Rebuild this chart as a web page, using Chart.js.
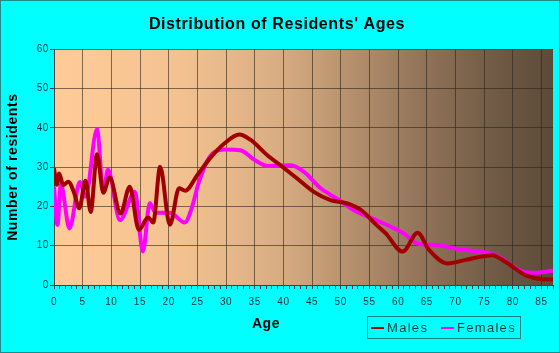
<!DOCTYPE html>
<html>
<head>
<meta charset="utf-8">
<script src="https://cdn.jsdelivr.net/npm/chart.js@4.4.1/dist/chart.umd.min.js"></script>
<style>
    html, body { margin: 0; padding: 0; background: #00ffff; }
    #wrap { position: relative; width: 560px; height: 353px; background: #00ffff; font-family: "Liberation Sans", Arial, sans-serif; }
    #frame { position: absolute; left: 0; top: 0; width: 558px; height: 351px; border: 1px solid #1c8c8c; pointer-events: none; }
    #ageTitle { position: absolute; left: 246px; top: 315px; width: 40px; text-align: center; font-weight: bold; font-size: 14px; letter-spacing: 0.6px; color: #000; }
    #legend { position: absolute; left: 367px; top: 316px; width: 152px; height: 21px; border: 1px solid #108080; font-size: 13px; letter-spacing: 1.3px; color: #063c3c; }
    .item { position: absolute; top: 3px; white-space: nowrap; }
    .item span.mark { position: absolute; top: 7px; width: 13px; height: 2px; }
    .item span.txt { position: absolute; left: 16px; top: 0; }
</style>
</head>
<body>
<div id="wrap">
    <canvas id="agesChart" width="560" height="353"></canvas>
    <div id="ageTitle">Age</div>
    <div id="legend"></div>
    <div id="frame"></div>
</div>
<script>
// ages where the curves were read, and number of residents at those ages
const maleAges = [0, 0.5, 0.9, 1.6, 2.5, 3.5, 4.4, 5.5, 6.4, 7.5, 8.6, 9.7, 11.6, 13.2, 14.8, 16.4, 17.3, 18.5, 20.2, 21.8, 22.9, 25, 27.4, 29.7, 32.3, 34.3, 37.2, 39.8, 42.4, 45.3, 48.2, 51, 53.6, 56.2, 57.8, 60.8, 63.4, 65.4, 68.6, 71.8, 76.4, 78.7, 82.2, 84.5, 87];
const males = [29.7, 25.5, 28.4, 25.4, 26.3, 23.5, 19.5, 26.5, 18.6, 33.3, 23.5, 27.4, 18.2, 25, 14, 17.2, 15.9, 30.1, 15.3, 24.6, 24, 28, 32.6, 36, 38.3, 36.9, 33, 30.1, 27.1, 23.7, 21.6, 20.8, 19, 15.3, 13.2, 8.5, 13.3, 8.9, 5.5, 6.4, 7.6, 5.9, 2.5, 1.6, 1.4];

const femaleAges = [0, 0.6, 1.2, 2.7, 4.5, 5.5, 7.5, 8.6, 9.4, 11.5, 14.1, 15.5, 16.7, 17.7, 20.2, 22.8, 24.1, 25.2, 27, 29.9, 32.5, 35, 37.3, 41.3, 43.6, 46.5, 49.3, 52.2, 56.5, 60.8, 63.7, 66.6, 70.6, 75.8, 77.6, 81, 83.4, 87];
const females = [25, 15.3, 25.5, 14.4, 26.2, 22.5, 39.6, 23.7, 29.3, 16.5, 23.7, 8.5, 20.8, 18.4, 18.4, 15.9, 20, 25.9, 32.3, 34.5, 34.3, 31.8, 30.3, 30.5, 28.8, 24.6, 22, 19.1, 16.3, 13.3, 10.4, 10.2, 9.1, 8.1, 7.2, 3.8, 3.1, 3.6];

const seriesNames = ["Males", "Females"];
const seriesColors = ["#a00000", "#ff00ff"];
const yTicks = [0, 10, 20, 30, 40, 50, 60];
const xLabelStep = 5;
const xMax = 87;

function toPoints(xs, ys) {
    return ys.map((v, i) => ({ x: xs[i], y: v }));
}

// peach-to-brown plot background and spaced-out text
const plotBackground = {
    id: "plotBackground",
    beforeDraw(chart) {
        const { ctx, chartArea: a } = chart;
        const g = ctx.createLinearGradient(a.left, 0, a.right, 0);
        g.addColorStop(0, "#ffcc99");
        g.addColorStop(0.25, "#f3c290");
        g.addColorStop(0.45, "#d9ad83");
        g.addColorStop(0.6, "#b48f6c");
        g.addColorStop(0.75, "#8f7157");
        g.addColorStop(0.9, "#6d5843");
        g.addColorStop(1, "#5c4a38");
        ctx.save();
        ctx.fillStyle = g;
        ctx.fillRect(a.left, a.top, a.right - a.left, a.bottom - a.top);
        ctx.restore();
        ctx.letterSpacing = "0.6px";
    },
};

const gridColor = "rgba(45, 35, 25, 0.6)";

new Chart(document.getElementById("agesChart").getContext("2d"), {
    type: "line",
    data: {
        datasets: [
            {
                label: seriesNames[0],
                data: toPoints(maleAges, males),
                borderColor: seriesColors[0],
                borderWidth: 4,
                pointRadius: 0,
                cubicInterpolationMode: "monotone",
            },
            {
                label: seriesNames[1],
                data: toPoints(femaleAges, females),
                borderColor: seriesColors[1],
                borderWidth: 4,
                pointRadius: 0,
                cubicInterpolationMode: "monotone",
            },
        ],
    },
    options: {
        responsive: false,
        devicePixelRatio: 1,
        animation: false,
        layout: { padding: { left: 0, right: 6, top: 0, bottom: 0 } },
        plugins: {
            legend: { display: false },
            tooltip: { enabled: false },
            title: {
                display: true,
                text: "Distribution of Residents' Ages",
                color: "#000",
                font: { family: "'Liberation Sans', Arial", size: 16, weight: "bold" },
                padding: { top: 15, bottom: 15 },
            },
        },
        scales: {
            x: {
                type: "linear",
                min: 0,
                max: xMax,
                afterFit: (s) => { s.height = 68; },
                afterBuildTicks: (s) => {
                    const t = [];
                    for (let v = 0; v <= xMax; v++) t.push({ value: v });
                    s.ticks = t;
                },
                ticks: {
                    autoSkip: false,
                    maxRotation: 0,
                    padding: 7,
                    color: "#0a3030",
                    font: { family: "'Liberation Sans', Arial", size: 10 },
                    callback: (v) => (v % xLabelStep === 0 ? v : ""),
                },
                grid: {
                    color: (c) => (c.tick && c.tick.value % xLabelStep === 0 ? gridColor : "rgba(0,0,0,0)"),
                    tickColor: "#404040",
                    tickLength: 4,
                    lineWidth: 1,
                },
                border: { color: "#404040", width: 1 },
            },
            y: {
                min: 0,
                max: 60,
                afterFit: (s) => { s.width = 54; },
                afterBuildTicks: (s) => { s.ticks = yTicks.map((v) => ({ value: v })); },
                ticks: {
                    padding: 1,
                    color: "#0a3030",
                    font: { family: "'Liberation Sans', Arial", size: 10 },
                },
                grid: { color: gridColor, tickColor: "#404040", tickLength: 4 },
                border: { color: "#404040", width: 1 },
                title: {
                    display: true,
                    text: "Number of residents",
                    color: "#000",
                    font: { family: "'Liberation Sans', Arial", size: 14, weight: "bold" },
                    padding: { top: 5, bottom: 0 },
                },
            },
        },
    },
    plugins: [plotBackground],
});

// legend box
const legend = document.getElementById("legend");
const itemLeft = [3, 73];
seriesNames.forEach((name, i) => {
    const it = document.createElement("div");
    it.className = "item";
    it.style.left = itemLeft[i] + "px";
    it.innerHTML = '<span class="mark" style="background:' + seriesColors[i] + '"></span><span class="txt">' + name + "</span>";
    legend.appendChild(it);
});
</script>
</body>
</html>
